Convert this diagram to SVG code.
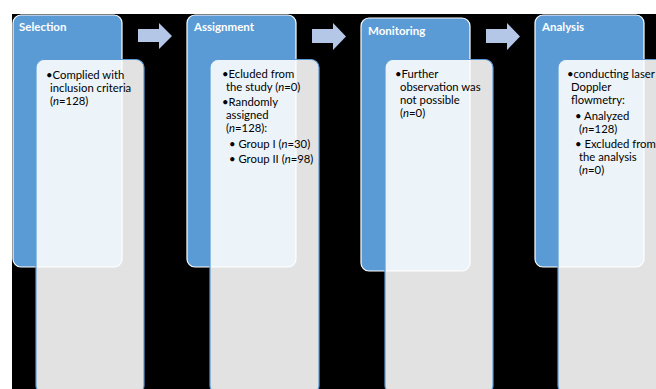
<svg xmlns="http://www.w3.org/2000/svg" width="656" height="389" viewBox="0 0 656 389">
<style>
.bg{fill:#000}
.blue{fill:#5B9BD5;stroke:#fff;stroke-width:1.2}
.inner{fill:#fff;fill-opacity:0.885;stroke:#5B9BD5;stroke-width:1.2}
.arr{fill:#B4C7E7}
.t{font-family:Lato,"Open Sans",sans-serif;font-weight:bold;font-size:11.5px;fill:#fff}
.b{font-family:Lato,"Open Sans",sans-serif;font-size:11.3px;fill:#000}
.i{font-style:italic}
</style>
<rect x="0" y="0" width="656" height="389" fill="#fff"/>
<rect class="bg" x="12" y="14" width="644" height="375"/>
<g id="connectors">
<path class="arr" d="M138,29 H159 V23 L172,36 L159,49 V42 H138 Z"/>
<path class="arr" d="M312,29 H333 V23 L346,36.5 L333,50 V43 H312 Z"/>
<path class="arr" d="M486,29 H507 V23 L520,36.5 L507,50 V43 H486 Z"/>
</g>
<g id="selection">
<rect class="blue" x="13" y="15" width="109" height="252" rx="8"/>
<text class="t" x="19" y="31">Selection</text>
<rect class="inner" x="36" y="59.5" width="108" height="334" rx="8"/>
<text class="b" x="46" y="79">•Complied with</text>
<text class="b" x="50" y="92">inclusion criteria</text>
<text class="b" x="50" y="105">(<tspan class="i">n</tspan>=128)</text>
</g>
<g id="assignment">
<rect class="blue" x="187" y="15" width="109" height="252" rx="8"/>
<text class="t" x="194" y="31">Assignment</text>
<rect class="inner" x="210" y="59.5" width="109" height="334" rx="8"/>
<text class="b" x="222" y="78">•Ecluded from</text>
<text class="b" x="226" y="91">the study (<tspan class="i">n</tspan>=0)</text>
<text class="b" x="222" y="106">•Randomly</text>
<text class="b" x="226" y="119">assigned</text>
<text class="b" x="226" y="132">(<tspan class="i">n</tspan>=128):</text>
<text class="b" x="229" y="148">• Group I (<tspan class="i">n</tspan>=30)</text>
<text class="b" x="229" y="163">• Group II (<tspan class="i">n</tspan>=98)</text>
</g>
<g id="monitoring">
<rect class="blue" x="361" y="18" width="109" height="253" rx="8"/>
<text class="t" x="368" y="35">Monitoring</text>
<rect class="inner" x="385" y="59.5" width="108" height="334" rx="8"/>
<text class="b" x="395" y="78">•Further</text>
<text class="b" x="400" y="91">observation was</text>
<text class="b" x="400" y="104">not possible</text>
<text class="b" x="400" y="117">(<tspan class="i">n</tspan>=0)</text>
</g>
<g id="analysis">
<rect class="blue" x="535" y="15" width="109" height="252" rx="8"/>
<text class="t" x="542" y="31">Analysis</text>
<rect class="inner" x="558" y="59.5" width="110" height="334" rx="8"/>
<text class="b" x="567" y="78">•conducting laser</text>
<text class="b" x="571" y="91">Doppler</text>
<text class="b" x="571" y="104">flowmetry:</text>
<text class="b" x="575" y="120">• Analyzed</text>
<text class="b" x="579" y="133">(<tspan class="i">n</tspan>=128)</text>
<text class="b" x="575" y="148">• Excluded from</text>
<text class="b" x="579" y="161">the analysis</text>
<text class="b" x="579" y="174">(<tspan class="i">n</tspan>=0)</text>
</g>
</svg>
